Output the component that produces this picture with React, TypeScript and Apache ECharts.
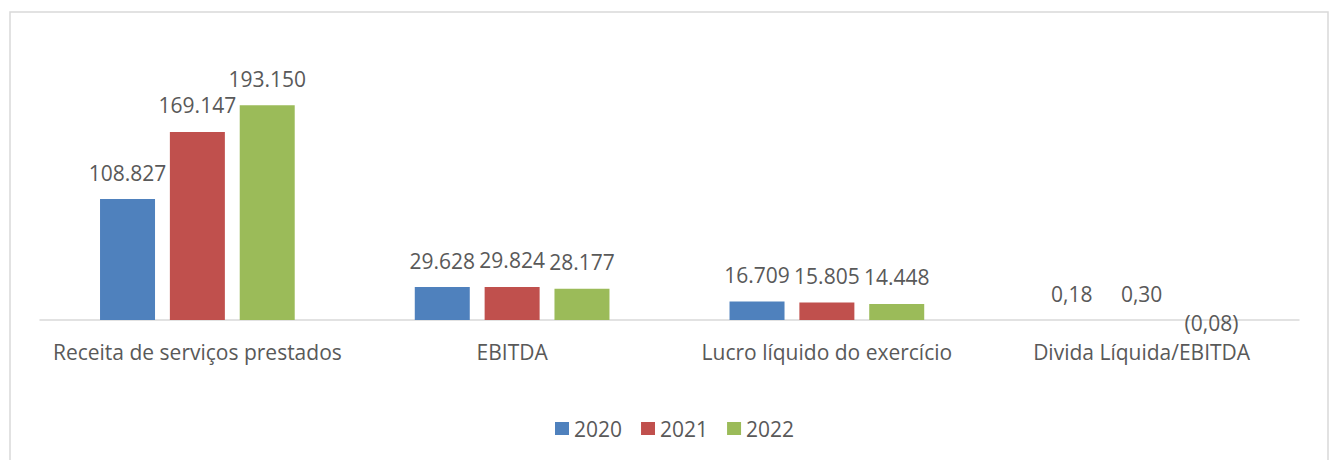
import React, { useEffect, useRef } from "react";
import * as echarts from "echarts";

const categories = [
  "Receita de serviços prestados",
  "EBITDA",
  "Lucro líquido do exercício",
  "Divida Líquida/EBITDA",
];
const seriesNames = ["2020", "2021", "2022"];
const values2020 = [108827, 29628, 16709, 0.18];
const values2021 = [169147, 29824, 15805, 0.3];
const values2022 = [193150, 28177, 14448, -0.08];
const colors = ["#4F81BD", "#C0504D", "#9BBB59"];

const TEXT = "#595959";
const FONT = "'Open Sans', sans-serif";

function fmt(v: number): string {
  const neg = v < 0;
  const a = Math.abs(v);
  let s: string;
  if (a < 10) {
    s = a.toFixed(2).replace(".", ",");
  } else {
    s = Math.round(a)
      .toString()
      .replace(/\B(?=(\d{3})+(?!\d))/g, ".");
  }
  return neg ? "(" + s + ")" : s;
}

export default function App() {
  const ref = useRef<HTMLDivElement>(null);
  useEffect(() => {
    if (!ref.current) return;
    const chart = echarts.init(ref.current, null, { renderer: "svg" });
    const allSeries = [values2020, values2021, values2022].map((vals, i) => ({
      name: seriesNames[i],
      type: "bar",
      barWidth: 55,
      barGap: "27%",
      itemStyle: { color: colors[i] },
      label: {
        show: true,
        position: "top",
        distance: 16,
        color: TEXT,
        fontSize: 21,
        fontFamily: FONT,
        formatter: (p: any) => fmt(p.value),
      },
      data: vals.map((v) =>
        v < 0
          ? { value: v, label: { position: "bottom", distance: -6, lineHeight: 18 } }
          : v
      ),
    }));
    chart.setOption({
      animation: false,
      backgroundColor: "#ffffff",
      textStyle: { fontFamily: FONT },
      graphic: [
        {
          type: "rect",
          shape: { x: 10, y: 12, width: 1318, height: 460 },
          style: { fill: "none", stroke: "#D9D9D9", lineWidth: 1.5 },
          silent: true,
          z: -1,
        },
      ],
      grid: { left: 40, right: 30, top: 75.4, bottom: 139.4 },
      legend: {
        data: seriesNames,
        left: 550,
        top: 413,
        itemWidth: 14,
        itemHeight: 13,
        itemGap: 19,
        icon: "rect",
        textStyle: { color: TEXT, fontSize: 21, fontFamily: FONT },
      },
      xAxis: {
        type: "category",
        data: categories,
        axisLine: { show: true, onZero: true, lineStyle: { color: "#D9D9D9", width: 1.5 } },
        axisTick: { show: false },
        axisLabel: {
          color: TEXT,
          fontSize: 21,
          fontFamily: FONT,
          margin: 22,
          lineHeight: 18,
          interval: 0,
        },
      },
      yAxis: {
        type: "value",
        min: -500,
        max: 220000,
        show: false,
        splitLine: { show: false },
      },
      series: allSeries,
    });
    return () => chart.dispose();
  }, []);
  return (
    <div
      ref={ref}
      style={{ position: "fixed", left: 0, top: 0, width: 1329, height: 460 }}
    />
  );
}
